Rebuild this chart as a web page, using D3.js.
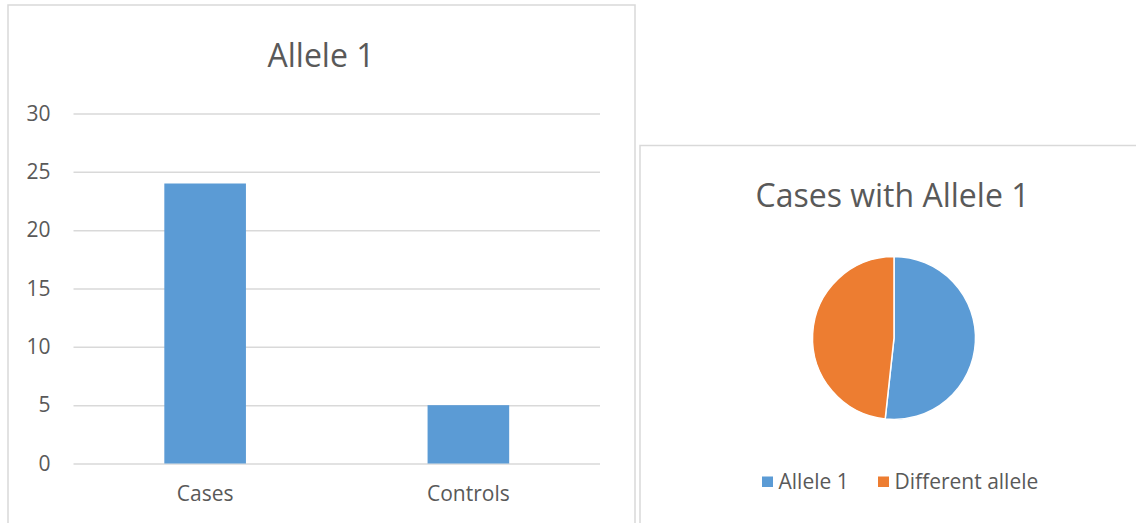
<!DOCTYPE html>
<html>
<head>
<meta charset="utf-8">
<script src="https://cdn.jsdelivr.net/npm/d3@7"></script>
<style>
  html, body { margin: 0; padding: 0; background: #fff; }
  svg { display: block; font-family: "Open Sans", sans-serif; }
</style>
</head>
<body>
<svg id="chart" width="1136" height="523"></svg>
<script>
// Bar chart: count of Allele 1 in each group
const barCategories = ["Cases", "Controls"];
const barValues = [24, 5];
const yTicks = [0, 5, 10, 15, 20, 25, 30];

// Pie chart: allele make-up among cases
const pieLabels = ["Allele 1", "Different allele"];
const pieValues = [15, 14];

const colors = { blue: "#5B9BD5", orange: "#ED7D31", grid: "#d9d9d9", text: "#595959", frame: "#d9d9d9" };

const svg = d3.select("#chart");

// ---------- bar chart panel ----------
svg.append("rect")
  .attr("x", 8).attr("y", 5).attr("width", 627).attr("height", 540)
  .attr("fill", "#fff").attr("stroke", colors.frame).attr("stroke-width", 1.5);

svg.append("text")
  .attr("x", 321).attr("y", 66.5)
  .attr("text-anchor", "middle")
  .attr("font-size", 32).attr("fill", colors.text)
  .text("Allele 1");

const x = d3.scaleBand()
  .domain(barCategories)
  .range([73.5, 600])
  .paddingInner(0.69)
  .paddingOuter(0.345);

const y = d3.scaleLinear().domain([0, 30]).range([463.5, 113.5]);

const yAxis = svg.append("g")
  .attr("transform", "translate(73.5,0)")
  .call(d3.axisLeft(y).tickValues(yTicks).tickSizeInner(-526.5).tickSizeOuter(0).tickPadding(23));
yAxis.select(".domain").remove();
yAxis.selectAll(".tick line").attr("stroke", colors.grid).attr("stroke-width", 1.5);
yAxis.selectAll(".tick text").attr("font-size", 21).attr("fill", colors.text)
  .attr("font-family", "Open Sans, sans-serif");

svg.append("g").selectAll("rect")
  .data(barValues)
  .join("rect")
  .attr("x", (d, i) => x(barCategories[i]))
  .attr("width", x.bandwidth())
  .attr("y", d => y(d))
  .attr("height", d => y(0) - y(d))
  .attr("fill", colors.blue);

const xAxis = svg.append("g")
  .attr("transform", "translate(0,463.5)")
  .call(d3.axisBottom(x).tickSize(0).tickPadding(23));
xAxis.select(".domain").remove();
xAxis.selectAll(".tick text").attr("font-size", 21).attr("fill", colors.text)
  .attr("font-family", "Open Sans, sans-serif");

// ---------- pie chart panel ----------
svg.append("rect")
  .attr("x", 640).attr("y", 145.5).attr("width", 520).attr("height", 400)
  .attr("fill", "#fff").attr("stroke", colors.frame).attr("stroke-width", 1.5);

svg.append("text")
  .attr("x", 892.5).attr("y", 207)
  .attr("text-anchor", "middle")
  .attr("font-size", 32).attr("fill", colors.text)
  .text("Cases with Allele 1");

const pieColor = d3.scaleOrdinal().domain(pieLabels).range([colors.blue, colors.orange]);
const pie = d3.pie().sort(null).value(d => d.value);
const arc = d3.arc().innerRadius(0).outerRadius(81.5);

svg.append("g")
  .attr("transform", "translate(894,338)")
  .selectAll("path")
  .data(pie(pieLabels.map((l, i) => ({ label: l, value: pieValues[i] }))))
  .join("path")
  .attr("d", arc)
  .attr("fill", d => pieColor(d.data.label))
  .attr("stroke", "#fff")
  .attr("stroke-width", 1.5);

// legend
const legendX = [762, 878];
const legend = svg.append("g").selectAll("g")
  .data(pieLabels)
  .join("g")
  .attr("transform", (d, i) => `translate(${legendX[i]},0)`);
legend.append("rect")
  .attr("x", 0).attr("y", 476.5).attr("width", 11).attr("height", 10.5)
  .attr("fill", d => pieColor(d));
legend.append("text")
  .attr("x", 16.5).attr("y", 489)
  .attr("font-size", 21).attr("fill", colors.text)
  .text(d => d);
</script>
</body>
</html>
